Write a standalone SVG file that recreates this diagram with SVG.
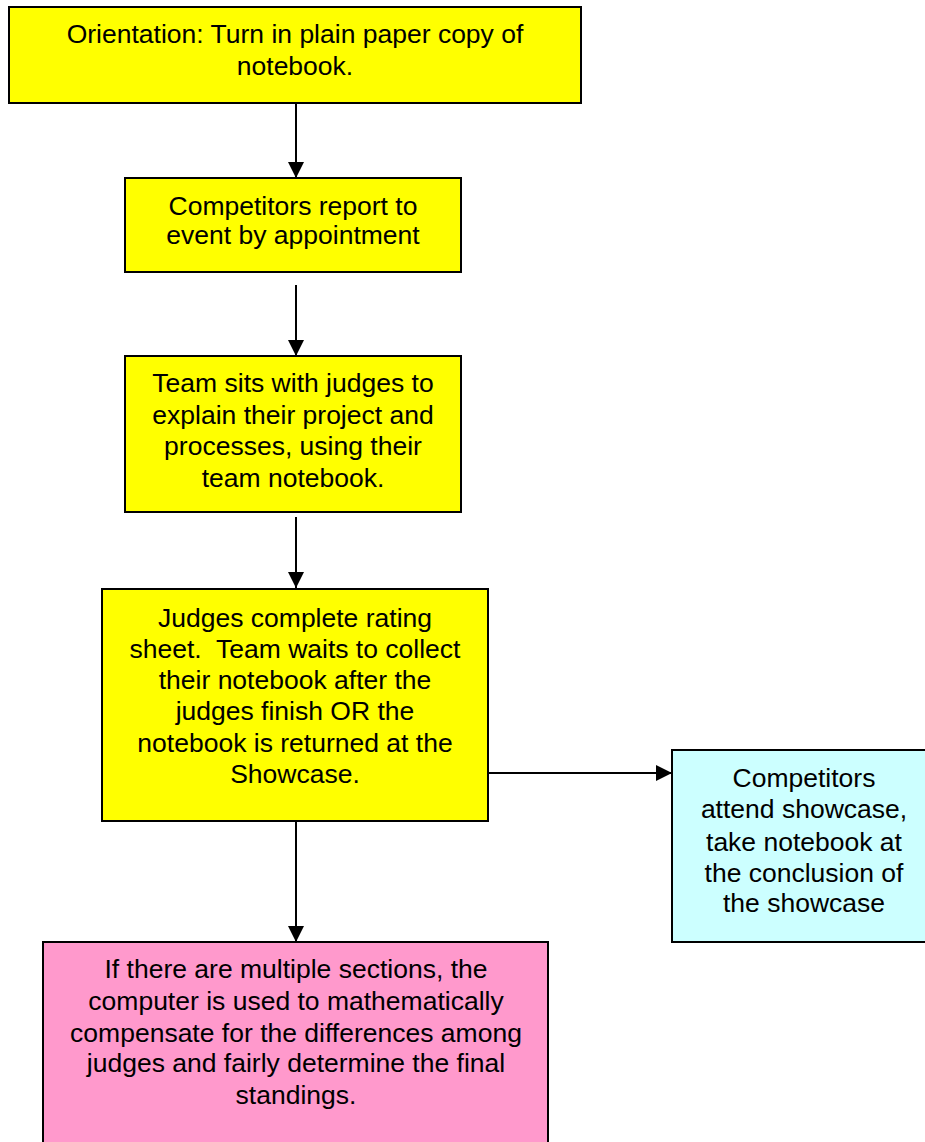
<svg xmlns="http://www.w3.org/2000/svg" width="925" height="1142" viewBox="0 0 925 1142">
<defs>
<style>
.box{stroke:#000;stroke-width:2}
.y{fill:#FFFF00}
.c{fill:#CCFFFF}
.p{fill:#FF99CC}
text{font-family:"Liberation Sans",Arial,sans-serif;font-size:26.5px;fill:#000;text-anchor:middle}
.con{stroke:#000;stroke-width:2;fill:none;marker-end:url(#ah)}
</style>
<marker id="ah" viewBox="0 0 10 10" refX="10" refY="5" markerWidth="16" markerHeight="16" markerUnits="userSpaceOnUse" orient="auto"><path d="M0,0 L10,5 L0,10 z" fill="#000"/></marker>
</defs>
<rect width="925" height="1142" fill="#fff"/>
<g id="connectors">
<line class="con" x1="296" y1="104" x2="296" y2="178"/>
<line class="con" x1="296" y1="285" x2="296" y2="356"/>
<line class="con" x1="296" y1="517" x2="296" y2="588"/>
<line class="con" x1="488" y1="773" x2="672" y2="773"/>
<line class="con" x1="296" y1="822" x2="296" y2="942"/>
</g>
<g id="n1">
<rect class="box y" x="9" y="7" width="572" height="96"/>
<text x="295" y="43">Orientation: Turn in plain paper copy of</text>
<text x="295" y="75">notebook.</text>
</g>
<g id="n2">
<rect class="box y" x="125" y="178" width="336" height="94"/>
<text x="293" y="215">Competitors report to</text>
<text x="293" y="244">event by appointment</text>
</g>
<g id="n3">
<rect class="box y" x="125" y="356" width="336" height="156"/>
<text x="293" y="392">Team sits with judges to</text>
<text x="293" y="424">explain their project and</text>
<text x="293" y="455">processes, using their</text>
<text x="293" y="487">team notebook.</text>
</g>
<g id="n4">
<rect class="box y" x="102" y="589" width="386" height="232"/>
<text x="295" y="627">Judges complete rating</text>
<text x="295" y="658" xml:space="preserve">sheet.  Team waits to collect</text>
<text x="295" y="689">their notebook after the</text>
<text x="295" y="720">judges finish OR the</text>
<text x="295" y="752">notebook is returned at the</text>
<text x="295" y="783">Showcase.</text>
</g>
<g id="n5">
<rect class="box c" x="672" y="750" width="262" height="192"/>
<text x="804" y="787">Competitors</text>
<text x="804" y="818">attend showcase,</text>
<text x="804" y="851">take notebook at</text>
<text x="804" y="882">the conclusion of</text>
<text x="804" y="912">the showcase</text>
</g>
<g id="n6">
<rect class="box p" x="43" y="942" width="505" height="210"/>
<text x="296" y="978">If there are multiple sections, the</text>
<text x="296" y="1010">computer is used to mathematically</text>
<text x="296" y="1042">compensate for the differences among</text>
<text x="296" y="1072">judges and fairly determine the final</text>
<text x="296" y="1104">standings.</text>
</g>
</svg>
